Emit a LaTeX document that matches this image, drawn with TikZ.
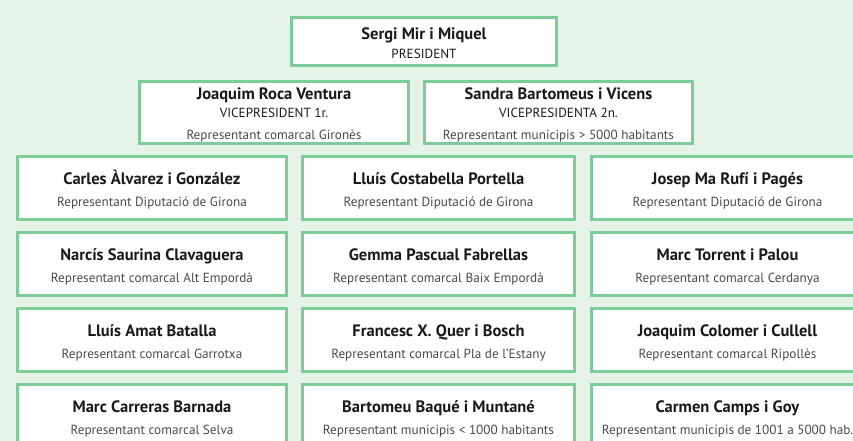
\documentclass[tikz,border=0pt]{standalone}
\usepackage{fontspec}
\setmainfont{PT Sans}
\definecolor{bg}{HTML}{E6F3E9}
\definecolor{edge}{HTML}{7DCB98}
\definecolor{nmcol}{HTML}{1A1A1A}
\definecolor{subcol}{HTML}{4A4A4A}
\newcommand{\hstr}[1]{\rule{0pt}{#1}}
\newcommand{\dstr}{\rule[-4pt]{0pt}{4pt}}
\newcommand{\pname}[1]{{\fontsize{16.5}{20}\selectfont\bfseries\color{nmcol}#1}}
\newcommand{\psub}[1]{{\fontsize{13.2}{20}\selectfont\color{subcol}#1}}
\newcommand{\prole}[1]{{\fontsize{13.2}{20}\selectfont\color{nmcol}#1}}
\newcommand{\member}[2]{\pname{\hstr{19pt}#1}\\[2pt]\psub{#2\dstr}}
\tikzset{
  box/.style={draw=edge, line width=3pt, fill=white, rectangle, inner sep=0pt,
    minimum width=270pt, minimum height=63pt, align=center,
    font=\fontsize{13.2}{20}\selectfont},
  wide/.style={box, minimum width=272pt},
}
\begin{document}
\begin{tikzpicture}[x=1pt,y=-1pt]
\useasboundingbox (0,0) rectangle (853,441);
\fill[bg] (0,0) rectangle (853,441);
\clip (0,0) rectangle (853,441);
\node[box, minimum width=265pt, minimum height=48.5pt] (pres) at (424,41.6) {\pname{\hstr{19pt}Sergi Mir i Miquel}\\[-0.6pt]\prole{PRESIDENT\dstr}};
\node[box, minimum width=269pt, minimum height=62pt] (vp1) at (274,112.5) {\pname{\hstr{17.6pt}Joaquim Roca Ventura}\\[-2pt]\prole{VICEPRESIDENT 1r.}\\[2pt]\psub{Representant comarcal Gironès\dstr}};
\node[box, minimum width=268pt, minimum height=62pt] (vp2) at (558.5,112.5) {\pname{\hstr{17.6pt}Sandra Bartomeus i Vicens}\\[-2pt]\prole{VICEPRESIDENTA 2n.}\\[2pt]\psub{Representant municipis > 5000 habitants\dstr}};

\node[box, minimum width=269pt] (a1) at (152,188) {\member{Carles Àlvarez i González}{Representant Diputació de Girona}};
\node[wide] (a2) at (438.5,188) {\member{Lluís Costabella Portella}{Representant Diputació de Girona}};
\node[wide] (a3) at (727.5,188) {\member{Josep Ma Rufí i Pagés}{Representant Diputació de Girona}};

\node[box, minimum width=269pt] (b1) at (152,264) {\member{Narcís Saurina Clavaguera}{Representant comarcal Alt Empordà}};
\node[wide] (b2) at (438.5,264) {\member{Gemma Pascual Fabrellas}{Representant comarcal Baix Empordà}};
\node[wide] (b3) at (727.5,264) {\member{Marc Torrent i Palou}{Representant comarcal Cerdanya}};

\node[box, minimum width=269pt] (c1) at (152,340) {\member{Lluís Amat Batalla}{Representant comarcal Garrotxa}};
\node[wide] (c2) at (438.5,340) {\member{Francesc X. Quer i Bosch}{Representant comarcal Pla de l’Estany}};
\node[wide] (c3) at (727.5,340) {\member{Joaquim Colomer i Cullell}{Representant comarcal Ripollès}};

\node[box, minimum width=269pt] (d1) at (152,416) {\member{Marc Carreras Barnada}{Representant comarcal Selva}};
\node[wide] (d2) at (438.5,416) {\member{Bartomeu Baqué i Muntané}{Representant municipis < 1000 habitants}};
\node[wide] (d3) at (727.5,416) {\member{Carmen Camps i Goy}{Representant municipis de 1001 a 5000 hab.}};
\end{tikzpicture}
\end{document}
